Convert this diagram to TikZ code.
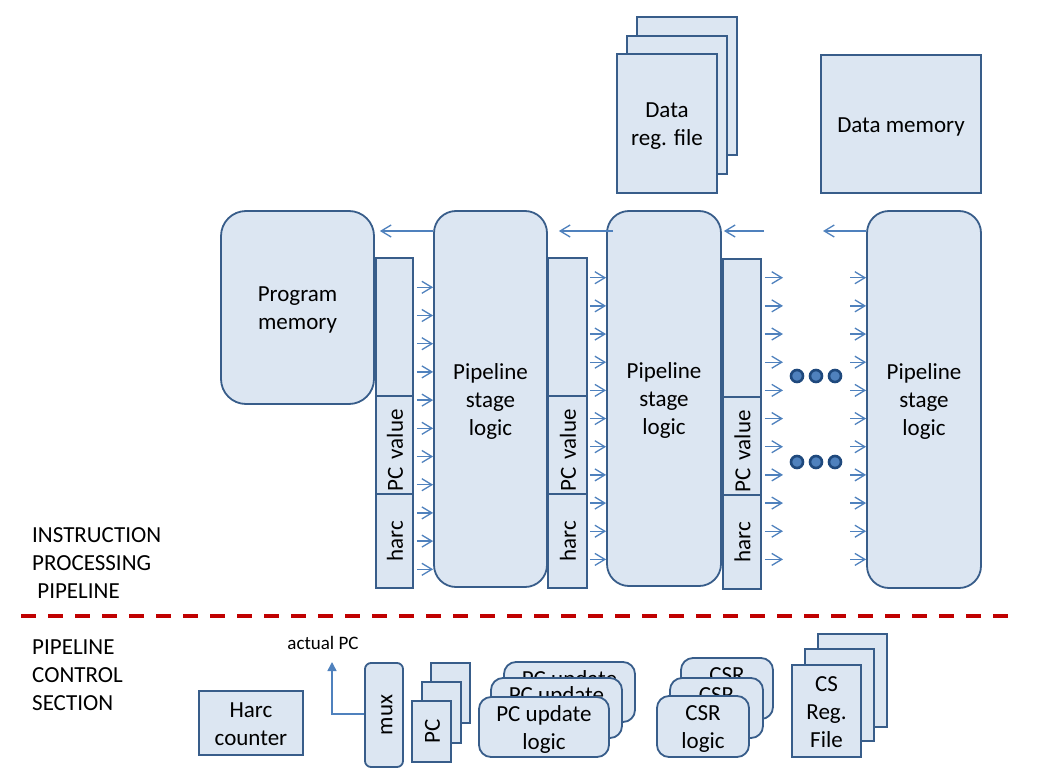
\documentclass[tikz,border=0pt]{standalone}
\usepackage{fontspec}
\setmainfont{Carlito}
\usetikzlibrary{arrows.meta,calc}
\definecolor{boxfill}{RGB}{220,230,242}
\definecolor{boxline}{RGB}{56,93,138}
\definecolor{wire}{RGB}{79,129,189}
\definecolor{divider}{RGB}{192,0,0}
\definecolor{dotfill}{RGB}{79,129,189}
\definecolor{dotline}{RGB}{31,73,125}

\begin{document}
\begin{tikzpicture}[x=1pt,y=-1pt,
  % text blocks are centred on full line boxes (ascent 22.25pt, descent 5.75pt, 28pt per line)
  blk/.style={draw=boxline, fill=boxfill, line width=1.8pt, inner sep=0pt,
    align=center, text=black, font=\fontsize{23}{28}\selectfont,
    text height=22.25pt, text depth=5.75pt},
  two/.style={text height=50.25pt},
  three/.style={text height=78.25pt},
  soft/.style={blk, rounded corners=#1},
  reg/.style={blk, minimum width=#1},
  vreg/.style={blk, rotate=90, minimum height=#1},
  fwd/.style={draw=wire, line width=1.3pt, -{Straight Barb[length=10pt,width=12pt]}},
  fb/.style={draw=wire, line width=1.3pt, -{Straight Barb[length=10pt,width=12pt]}},
  pcwire/.style={draw=wire, line width=1.5pt, -{Triangle[length=9pt,width=9pt]}},
  bigdot/.style={circle, fill=dotfill, draw=dotline, line width=2.6pt, minimum size=12pt, inner sep=0pt},
  sidelabel/.style={inner sep=0pt, anchor=north west, align=left, text=black,
    font=\fontsize{23}{28}\selectfont},
]
\useasboundingbox (0,0) rectangle (1038,781);

% ---------------- data storage on top ----------------
\node[blk, minimum width=100, minimum height=138] (drf3) at (687,86) {};
\node[blk, minimum width=100, minimum height=138] (drf2) at (677,105) {};
\node[blk, two, minimum width=100, minimum height=139] (drf1) at (667,123.5) {Data\\reg. file};
\node[blk, minimum width=160, minimum height=138] (dmem) at (901,124) {Data memory};

% ---------------- instruction processing pipeline ----------------
\node[soft=25pt, two, minimum width=153, minimum height=193] (pm) at (297.5,307.5) {Program\\memory};

\node[soft=22pt, three, minimum width=113, minimum height=376] (st1) at (490.5,399) {Pipeline\\stage\\logic};
\node[soft=22pt, three, minimum width=114, minimum height=375] (st2) at (664,398.5) {Pipeline\\stage\\logic};
\node[soft=22pt, three, minimum width=114, minimum height=377] (st3) at (924,399.5) {Pipeline\\stage\\logic};

% pipeline registers: data part, PC value, harc
\node[reg=37, minimum height=138] (r1d) at (394.5,327) {};
\node[vreg=37, text width=92, inner xsep=3pt, align=left] (r1pc) at (394.5,445) {PC value};
\node[vreg=37, minimum width=94] (r1h) at (394.5,541) {harc};

\node[reg=39, minimum height=138] (r2d) at (567.5,327) {};
\node[vreg=39, text width=92, inner xsep=3pt, align=left] (r2pc) at (567.5,445) {PC value};
\node[vreg=39, minimum width=94] (r2h) at (567.5,541) {harc};

\node[reg=38, minimum height=138] (r3d) at (742,328) {};
\node[vreg=38, text width=92, inner xsep=3pt, align=left] (r3pc) at (742,446) {PC value};
\node[vreg=38, minimum width=94] (r3h) at (742,542) {harc};

% forward signals into each stage
\foreach \i in {0,...,10} {
  \pgfmathsetmacro{\ya}{287.3+28.2*\i}
  \pgfmathsetmacro{\yb}{277.7+28.17*\i}
  \draw[fwd] ($(r1d.east |- 0,\ya)+(3,0)$) -- (st1.west |- 0,\ya);
  \draw[fwd] ($(r2d.east |- 0,\yb)+(2,0)$) -- (st2.west |- 0,\yb);
  \coordinate (o\i) at (783,\yb);
  \coordinate (n\i) at (850,\yb);
  \draw[fwd] ($(r3d.east |- 0,\yb)+(3,0)$) -- (o\i);
  \draw[fwd] (n\i) -- (st3.west |- 0,\yb);
}

% feedback signals
\coordinate (fb3) at (764,231);
\coordinate (fb4) at (823,231);
\draw[fb] (st1.west |- 0,231) -- ($(pm.east |- 0,231)+(5,0)$);
\draw[fb] ($(st2.west |- 0,231)+(7,0)$) -- ($(st1.east |- 0,231)+(11,0)$);
\draw[fb] (fb3) -- ($(st2.east |- 0,231)+(2,0)$);
\draw[fb] (st3.west |- 0,231) -- (fb4);

% further stages omitted
\node[bigdot] (d1) at (797,376) {};
\node[bigdot] (d2) at (816,376) {};
\node[bigdot] (d3) at (835,376) {};
\node[bigdot] (d4) at (797,462) {};
\node[bigdot] (d5) at (816,462) {};
\node[bigdot] (d6) at (835,462) {};

% section labels and divider
\node[sidelabel] (ipp) at (32,527) {INSTRUCTION\\PROCESSING\\\ PIPELINE};
\draw[divider, line width=4pt, dash pattern=on 15pt off 12pt] (21,616) -- (1018,616);
\node[sidelabel] (pcs) at (32,640) {PIPELINE\\CONTROL\\SECTION};

% ---------------- pipeline control section ----------------
\node[blk, two, minimum width=104, minimum height=64] (hc) at (251,723) {Harc\\counter};

\node[soft=6pt, rotate=90, minimum width=104, minimum height=38] (mux) at (384,715) {mux};
\node[inner sep=0pt, text=black, font=\fontsize{19}{22}\selectfont] (apc) at (323,643) {actual PC};
\coordinate (apctip) at (332,662);
\draw[pcwire] (mux.north |- 0,714) -| (apctip);

\node[blk, minimum width=39, minimum height=60] (pc3) at (450.5,693) {};
\node[blk, minimum width=39, minimum height=61] (pc2) at (441.5,712.5) {};
\node[blk, rotate=90, minimum width=61, minimum height=39] (pc1) at (431.5,731.5) {PC};

\node[soft=12pt, two, minimum width=131, minimum height=60] (pcu3) at (569.5,692) {PC update\\logic};
\node[soft=12pt, two, minimum width=131, minimum height=60] (pcu2) at (556.5,708) {PC update\\logic};
\node[soft=12pt, two, minimum width=130, minimum height=60] (pcu1) at (544,727) {PC update\\logic};

\node[soft=12pt, two, minimum width=92, minimum height=61] (csr3) at (727,688.5) {CSR\\logic};
\node[soft=12pt, two, minimum width=93, minimum height=60] (csr2) at (716.5,708) {CSR\\logic};
\node[soft=12pt, two, minimum width=92, minimum height=61] (csr1) at (703,726.5) {CSR\\logic};

\node[blk, minimum width=69, minimum height=93] (csf3) at (852.5,680.5) {};
\node[blk, minimum width=69, minimum height=92] (csf2) at (839.5,695) {};
\node[blk, three, minimum width=69, minimum height=92] (csf1) at (826.5,711) {CS\\Reg.\\File};
\end{tikzpicture}
\end{document}
